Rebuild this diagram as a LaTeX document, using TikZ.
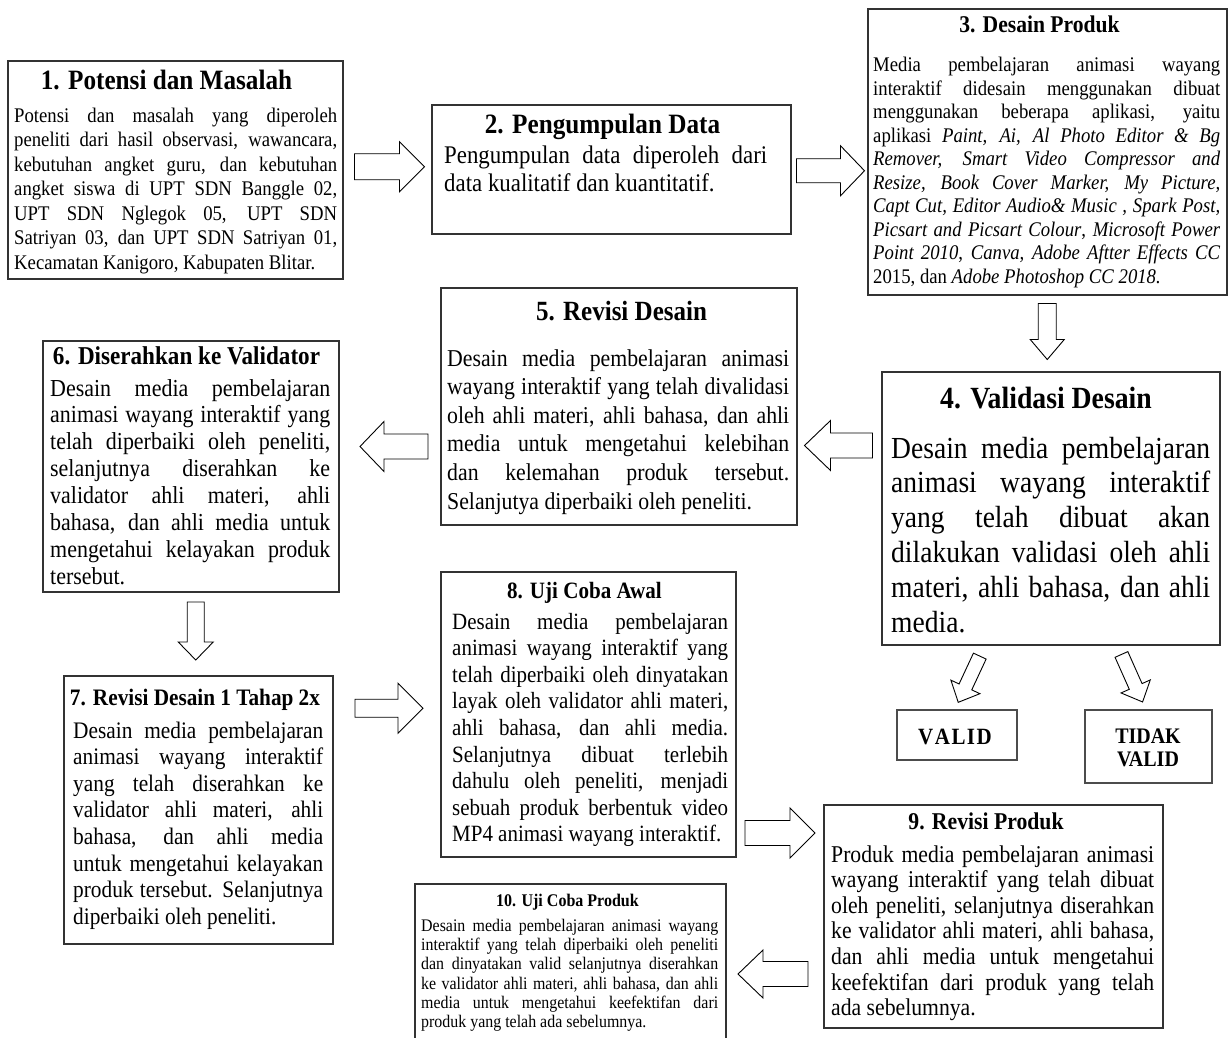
\documentclass[tikz,border=0pt]{standalone}
\usepackage{fontspec}
\setmainfont{Liberation Serif}[FakeStretch=0.9]
\usetikzlibrary{calc,fit}

\newcommand\fs[2]{\fontsize{#1}{#2}\selectfont}

\tikzset{
	box/.style={draw=black!80, line width=1.2pt, inner sep=0pt},
	ttl/.style={anchor=base, inner sep=0pt},
	txt/.style={anchor=base west, inner sep=0pt, align=justify},
	pics/barrow/.style args={#1/#2/#3/#4}{code={
		\draw[line width=0.9pt, fill=white, line join=miter] ({-#1/2},{-#3}) -- ({#1/2-#2},{-#3}) -- ({#1/2-#2},{-#4}) -- ({#1/2},0) -- ({#1/2-#2},{#4}) -- ({#1/2-#2},{#3}) -- ({-#1/2},{#3}) -- cycle;
	}}
}

\begin{document}
\begin{tikzpicture}[x=1pt, y=-1pt]
	\useasboundingbox (0,0) rectangle (1228,1037);

	% boxes
	\node[box, fit={(8,61) (343,279)}] (p1) {};
	\node[box, fit={(432,105) (791,234)}] (p2) {};
	\node[box, fit={(868,9) (1227,295)}] (p3) {};
	\node[box, fit={(882,372) (1220,645)}] (p4) {};
	\node[box, fit={(441,288) (797,525)}] (p5) {};
	\node[box, fit={(43,341) (339,592)}] (p6) {};
	\node[box, fit={(64,676) (333,944)}] (p7) {};
	\node[box, fit={(441,572) (736,857)}] (p8) {};
	\node[box, fit={(824,805) (1163,1028)}] (p9) {};
	\node[box, fit={(415,884) (726,1045)}] (p10) {};
	\node[box, draw=black!70, line width=1.6pt, fit={(897,710) (1017,760)}] (v) {};
	\node[box, draw=black!70, line width=1.6pt, fit={(1085,710) (1212,783)}] (tv) {};

	% titles
	\node[ttl, font=\bfseries\fs{28}{30}] (t1) at (166.5,89) {1. Potensi dan Masalah};
	\node[ttl, font=\bfseries\fs{28}{30}] (t2) at (602.5,133) {2. Pengumpulan Data};
	\node[ttl, font=\bfseries\fs{24}{26}] (t3) at (1039.5,32.5) {3. Desain Produk};
	\node[ttl, font=\bfseries\fs{30.8}{33}] (t4) at (1046,408) {4. Validasi Desain};
	\node[ttl, font=\bfseries\fs{27.8}{30}] (t5) at (621.5,320.5) {5. Revisi Desain};
	\node[ttl, font=\bfseries\fs{25.7}{28}] (t6) at (186.5,364) {6. Diserahkan ke Validator};
	\node[ttl, font=\bfseries\fs{23.6}{26}] (t7) at (195,705.5) {7. Revisi Desain 1 Tahap 2x};
	\node[ttl, font=\bfseries\fs{23.4}{26}] (t8) at (584.5,598.5) {8. Uji Coba Awal};
	\node[ttl, font=\bfseries\fs{24.1}{26}] (t9) at (986,829) {9. Revisi Produk};
	\node[ttl, font=\bfseries\fs{17.8}{19}] (t10) at (567.5,906.5) {10. Uji Coba Produk};
	\node[ttl, font=\bfseries\fs{23.3}{24}] (tv1) at (955,744) {V\kern1.5pt A\kern1.5pt L\kern1.5pt I\kern1.5pt D};
	\node[ttl, font=\bfseries\fs{22.2}{23}, align=center] (tv2) at (1148,766) {TIDAK\\VALID};

	% texts
	\node[txt, text width=323, font=\fs{20.8}{24.5}] (b1) at (14,122) {Potensi dan masalah yang diperoleh\linebreak
		peneliti dari hasil observasi, wawancara,\linebreak
		kebutuhan angket guru, dan kebutuhan\linebreak
		angket siswa di UPT SDN Banggle 02,\linebreak
		UPT SDN Nglegok 05, UPT SDN\linebreak
		Satriyan 03, dan UPT SDN Satriyan 01,\linebreak
		Kecamatan Kanigoro, Kabupaten Blitar.};
	\node[txt, text width=323, font=\fs{25.4}{28}] (b2) at (444,163) {Pengumpulan data diperoleh dari\linebreak
		data kualitatif dan kuantitatif.};
	\node[txt, text width=347, font=\fs{20.8}{23.5}] (b3) at (873,71.5) {Media pembelajaran animasi wayang\linebreak
		interaktif didesain menggunakan dibuat\linebreak
		menggunakan beberapa aplikasi, yaitu\linebreak
		aplikasi \textit{Paint, Ai, Al Photo Editor \& Bg}\linebreak
		\textit{Remover, Smart Video Compressor and}\linebreak
		\textit{Resize, Book Cover Marker, My Picture,}\linebreak
		\textit{Capt Cut, Editor Audio\& Music , Spark Post,}\linebreak
		\textit{Picsart and Picsart Colour}, \textit{Microsoft Power}\linebreak
		\textit{Point 2010}, \textit{Canva, Adobe Aftter Effects CC}\linebreak
		2015, dan \textit{Adobe Photoshop CC 2018.}};
	\node[txt, text width=319, font=\fs{30.6}{34.8}] (b4) at (891,458) {Desain media pembelajaran\linebreak
		animasi wayang interaktif\linebreak
		yang telah dibuat akan\linebreak
		dilakukan validasi oleh ahli\linebreak
		materi, ahli bahasa, dan ahli\linebreak
		media.};
	\node[txt, text width=342, font=\fs{24.2}{28.6}] (b5) at (447,366) {Desain media pembelajaran animasi\linebreak
		wayang interaktif yang telah divalidasi\linebreak
		oleh ahli materi, ahli bahasa, dan ahli\linebreak
		media untuk mengetahui kelebihan\linebreak
		dan kelemahan produk tersebut.\linebreak
		Selanjutya diperbaiki oleh peneliti.};
	\node[txt, text width=280, font=\fs{24.4}{26.9}] (b6) at (50,396) {Desain media pembelajaran\linebreak
		animasi wayang interaktif yang\linebreak
		telah diperbaiki oleh peneliti,\linebreak
		selanjutnya diserahkan ke\linebreak
		validator ahli materi, ahli\linebreak
		bahasa, dan ahli media untuk\linebreak
		mengetahui kelayakan produk\linebreak
		tersebut.};
	\node[txt, text width=250, font=\fs{23.7}{26.6}] (b7) at (73,738) {Desain media pembelajaran\linebreak
		animasi wayang interaktif\linebreak
		yang telah diserahkan ke\linebreak
		validator ahli materi, ahli\linebreak
		bahasa, dan ahli media\linebreak
		untuk mengetahui kelayakan\linebreak
		produk tersebut. Selanjutnya\linebreak
		diperbaiki oleh peneliti.};
	\node[txt, text width=276, font=\fs{23.3}{26.6}] (b8) at (452,629) {Desain media pembelajaran\linebreak
		animasi wayang interaktif yang\linebreak
		telah diperbaiki oleh dinyatakan\linebreak
		layak oleh validator ahli materi,\linebreak
		ahli bahasa, dan ahli media.\linebreak
		Selanjutnya dibuat terlebih\linebreak
		dahulu oleh peneliti, menjadi\linebreak
		sebuah produk berbentuk video\linebreak
		MP4 animasi wayang interaktif.};
	\node[txt, text width=323, font=\fs{24.1}{25.6}] (b9) at (831,862) {Produk media pembelajaran animasi\linebreak
		wayang interaktif yang telah dibuat\linebreak
		oleh peneliti, selanjutnya diserahkan\linebreak
		ke validator ahli materi, ahli bahasa,\linebreak
		dan ahli media untuk mengetahui\linebreak
		keefektifan dari produk yang telah\linebreak
		ada sebelumnya.};
	\node[txt, text width=297, font=\fs{17.7}{19.2}] (b10) at (421,931.5) {Desain media pembelajaran animasi wayang\linebreak
		interaktif yang telah diperbaiki oleh peneliti\linebreak
		dan dinyatakan valid selanjutnya diserahkan\linebreak
		ke validator ahli materi, ahli bahasa, dan ahli\linebreak
		media untuk mengetahui keefektifan dari\linebreak
		produk yang telah ada sebelumnya.};

	% arrows
	\pic at ($(p1.east)!.5!(p2.west)+(2,-3)$) {barrow=70/25/13/25};
	\pic at ($(p2.east)!.5!(p3.west)+(1,10)$) {barrow=68/24/12/25};
	\pic[rotate=-90] at ($(p3.south)!.5!(p4.north)+(-2,-2)$) {barrow=56/20/9/17};
	\pic[rotate=180] at ($(p4.west)!.5!(p5.east)+(-1,-12)$) {barrow=68/26/12.5/25};
	\pic[rotate=180] at ($(p5.west)!.5!(p6.east)+(4,10)$) {barrow=68/24/12.5/25};
	\pic[rotate=-90] at ($(p6.south)!.5!(p7.north)+(1,-3)$) {barrow=58/18/8.5/17.5};
	\pic at ($(p7.east)!.5!(p8.west)+(2,-54)$) {barrow=68/25/9/25};
	\pic at ($(p8.east)!.5!(p9.west)+(0,17.5)$) {barrow=70/25/12.5/25};
	\pic[rotate=180] at ($(p9.west)!.5!(p10.east)+(-2,33.5)$) {barrow=70/25/12.5/24};
	\pic[rotate=-115] at ($(v.north)+(12,-30)$) {barrow=51/17/7/16};
	\pic[rotate=-66] at ($(tv.north)+(-16.5,-31)$) {barrow=52/17/7/16};
\end{tikzpicture}
\end{document}
